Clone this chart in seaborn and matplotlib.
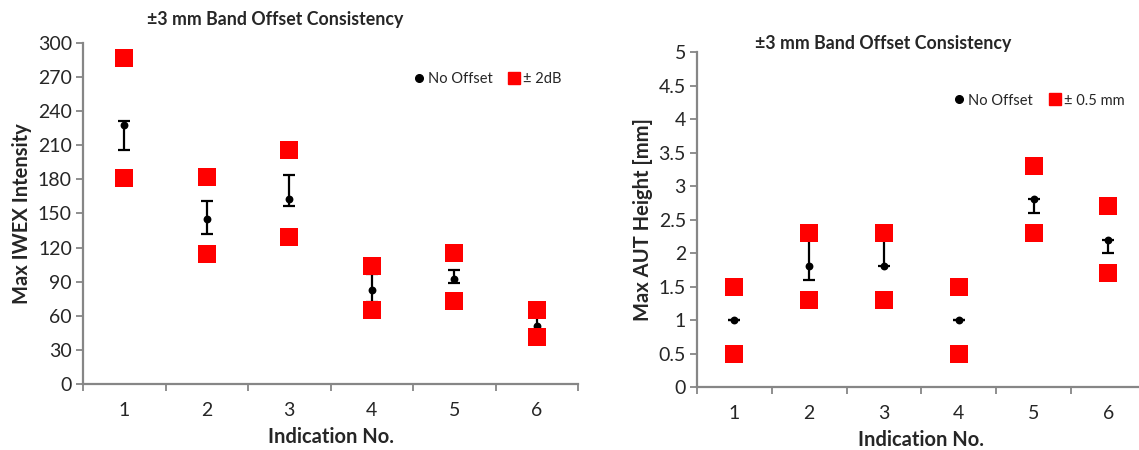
import matplotlib
matplotlib.use("Agg")
import matplotlib.pyplot as plt
import seaborn as sns
import pandas as pd
from matplotlib.lines import Line2D
from matplotlib.ticker import FormatStrFormatter

# indication numbers
indications = [1, 2, 3, 4, 5, 6]

# left chart: IWEX intensity
iwex_no_offset = [228, 145, 163, 83, 92, 51]
iwex_err_low = [206, 132, 157, 72, 89, 45]
iwex_err_high = [231, 161, 184, 97, 100, 60]
iwex_plus = [287, 182, 206, 104, 115, 65]
iwex_minus = [181, 114, 129, 65, 73, 41]

# right chart: AUT height
aut_no_offset = [1.0, 1.8, 1.8, 1.0, 2.8, 2.2]
aut_err_low = [1.0, 1.6, 1.8, 1.0, 2.6, 2.0]
aut_err_high = [1.0, 2.2, 2.2, 1.0, 2.8, 2.2]
aut_plus = [1.5, 2.3, 2.3, 1.5, 3.3, 2.7]
aut_minus = [0.5, 1.3, 1.3, 0.5, 2.3, 1.7]

title = "±3 mm Band Offset Consistency"

sns.set_style("white")
plt.rcParams['font.family'] = ['Lato', 'DejaVu Sans']

GRAY = "#868686"

fig = plt.figure(figsize=(11.39, 4.5), dpi=100)
ax1 = fig.add_axes([0.0729, 0.1467, 0.4346, 0.7578])
ax2 = fig.add_axes([0.612, 0.14, 0.394, 0.7444])


def draw(ax, no_off, lo, hi, plus, minus, ylim, ystep, fmt, ylabel, red_label, leg_xy):
    ax.errorbar(indications, no_off,
                yerr=[[n - l for n, l in zip(no_off, lo)], [h - n for n, h in zip(no_off, hi)]],
                fmt="none", ecolor="black", elinewidth=1.6, capsize=4.3, capthick=1.6, zorder=2)
    sns.scatterplot(x=indications, y=no_off, ax=ax, color="black", marker="o",
                    s=32, edgecolor="black", linewidth=0, zorder=3)
    red = pd.DataFrame({"ind": indications * 2, "val": plus + minus})
    sns.scatterplot(data=red, x="ind", y="val", ax=ax, color="#ff0000", marker="s",
                    s=150, linewidth=0, zorder=4)
    ax.set_xlim(0.5, 6.5)
    ax.set_ylim(*ylim)
    ax.set_xticks([i + 0.5 for i in range(0, 7)])
    ax.set_xticklabels([])
    ax.set_xticks(indications, minor=True)
    ax.set_xticklabels([str(i) for i in indications], minor=True)
    yt = [ylim[0] + ystep * k for k in range(int(round((ylim[1] - ylim[0]) / ystep)) + 1)]
    ax.set_yticks(yt)
    ax.yaxis.set_major_formatter(FormatStrFormatter(fmt))
    ax.tick_params(axis="x", which="major", length=5, width=1.3, color=GRAY, direction="out", bottom=True)
    ax.tick_params(axis="x", which="minor", length=0, labelsize=14, pad=13)
    ax.tick_params(axis="y", length=5, width=1.3, color=GRAY, direction="out", labelsize=14, pad=3, left=True)
    for s in ["top", "right"]:
        ax.spines[s].set_visible(False)
    for s in ["left", "bottom"]:
        ax.spines[s].set_color(GRAY)
        ax.spines[s].set_linewidth(1.6)
    ax.set_xlabel("Indication No.", fontsize=14.5, fontweight="bold", labelpad=6)
    ax.set_ylabel(ylabel, fontsize=14.5, fontweight="bold", labelpad=4)
    handles = [Line2D([], [], marker="o", color="black", linestyle="none", markersize=5.5),
               Line2D([], [], marker="s", color="#ff0000", linestyle="none", markersize=9)]
    ax.legend(handles, ["No Offset", red_label], loc="center", bbox_to_anchor=leg_xy, ncol=2,
              frameon=False, fontsize=10.5, handletextpad=0.1, columnspacing=1.0, handlelength=1.0)


draw(ax1, iwex_no_offset, iwex_err_low, iwex_err_high, iwex_plus, iwex_minus,
     (0, 300), 30, "%g", "Max IWEX Intensity", "± 2dB", (0.815, 0.894))
draw(ax2, aut_no_offset, aut_err_low, aut_err_high, aut_plus, aut_minus,
     (0, 5), 0.5, "%g", "Max AUT Height [mm]", "± 0.5 mm", (0.76, 0.855))

fig.text(275 / 1139, 1 - 20 / 450, title, ha="center", va="center", fontsize=12.8, fontweight="bold")
fig.text(883 / 1139, 1 - 44 / 450, title, ha="center", va="center", fontsize=12.8, fontweight="bold")

fig.savefig("out.png", dpi=100)
